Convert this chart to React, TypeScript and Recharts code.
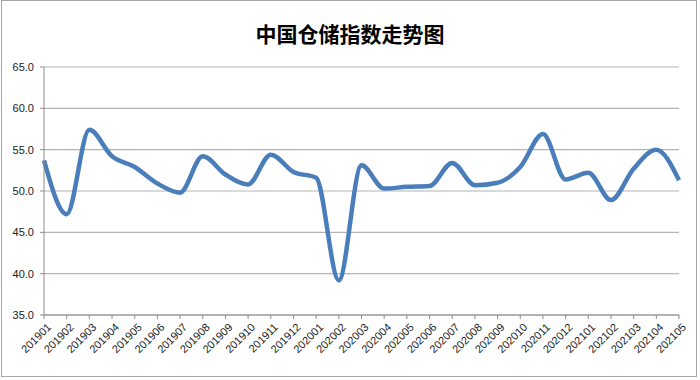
import React from 'react';
import {
  LineChart,
  Line,
  XAxis,
  YAxis,
  CartesianGrid,
} from 'recharts';

// months on the x axis
const months = [
  '201901', '201902', '201903', '201904', '201905', '201906', '201907', '201908',
  '201909', '201910', '201911', '201912', '202001', '202002', '202003', '202004',
  '202005', '202006', '202007', '202008', '202009', '202010', '202011', '202012',
  '202101', '202102', '202103', '202104', '202105',
];

// warehouse index values
const indexValues = [
  53.7, 47.2, 57.4, 54.2, 52.9, 50.9, 49.8, 54.2,
  52.0, 50.8, 54.4, 52.3, 51.6, 39.2, 53.1, 50.3,
  50.5, 50.6, 53.4, 50.7, 51.0, 52.9, 56.9, 51.4,
  52.2, 48.9, 52.7, 55.0, 51.3,
];

const yTicks = [35, 40, 45, 50, 55, 60, 65];

const data = months.map((m, i) => ({ month: m, value: indexValues[i] }));

const XTick = ({ x, y, payload }: any) => (
  <g transform={`translate(${x + 5},${y + 4})`}>
    <text
      x={0}
      y={0}
      dy={4}
      textAnchor="end"
      transform="rotate(-45)"
      fontSize={11}
      fontFamily="Liberation Sans, Arial, sans-serif"
      fill="#222"
    >
      {payload.value}
    </text>
  </g>
);

export default function App() {
  return (
    <div
      style={{
        position: 'absolute',
        left: 0,
        top: 0,
        width: 700,
        height: 380,
        background: '#fff',
      }}
    >
      {/* outer frame */}
      <div
        style={{
          position: 'absolute',
          left: 1,
          top: 0,
          width: 696,
          height: 377,
          border: '1px solid #a6a6a6',
          boxSizing: 'border-box',
        }}
      />
      <div
        style={{
          position: 'absolute',
          left: 0,
          top: 19,
          width: 700,
          textAlign: 'center',
          fontFamily: '"Noto Sans CJK SC", sans-serif',
          fontWeight: 'bold',
          fontSize: 21,
          lineHeight: '28px',
          color: '#000',
        }}
      >
        中国仓储指数走势图
      </div>
      <LineChart
        width={700}
        height={380}
        data={data}
        margin={{ top: 67, right: 21, left: 0, bottom: 0 }}
      >
        <CartesianGrid horizontal vertical={false} stroke="#b4b4b4" strokeWidth={1.2} />
        <XAxis
          dataKey="month"
          interval={0}
          height={65}
          tickSize={4}
          tick={<XTick />}
          axisLine={{ stroke: '#8c8c8c' }}
          tickLine={{ stroke: '#8c8c8c' }}
        />
        <YAxis
          domain={[35, 65]}
          ticks={yTicks}
          width={44}
          tickSize={4}
          tickMargin={6}
          tickFormatter={(v: number) => v.toFixed(1)}
          tick={{ fontSize: 11, fill: '#222', fontFamily: 'Liberation Sans, Arial, sans-serif' }}
          axisLine={{ stroke: '#8c8c8c' }}
          tickLine={{ stroke: '#8c8c8c' }}
        />
        <Line
          type="monotone"
          dataKey="value"
          stroke="#4a7ebb"
          strokeWidth={4.5}
          dot={false}
          isAnimationActive={false}
        />
      </LineChart>
    </div>
  );
}
